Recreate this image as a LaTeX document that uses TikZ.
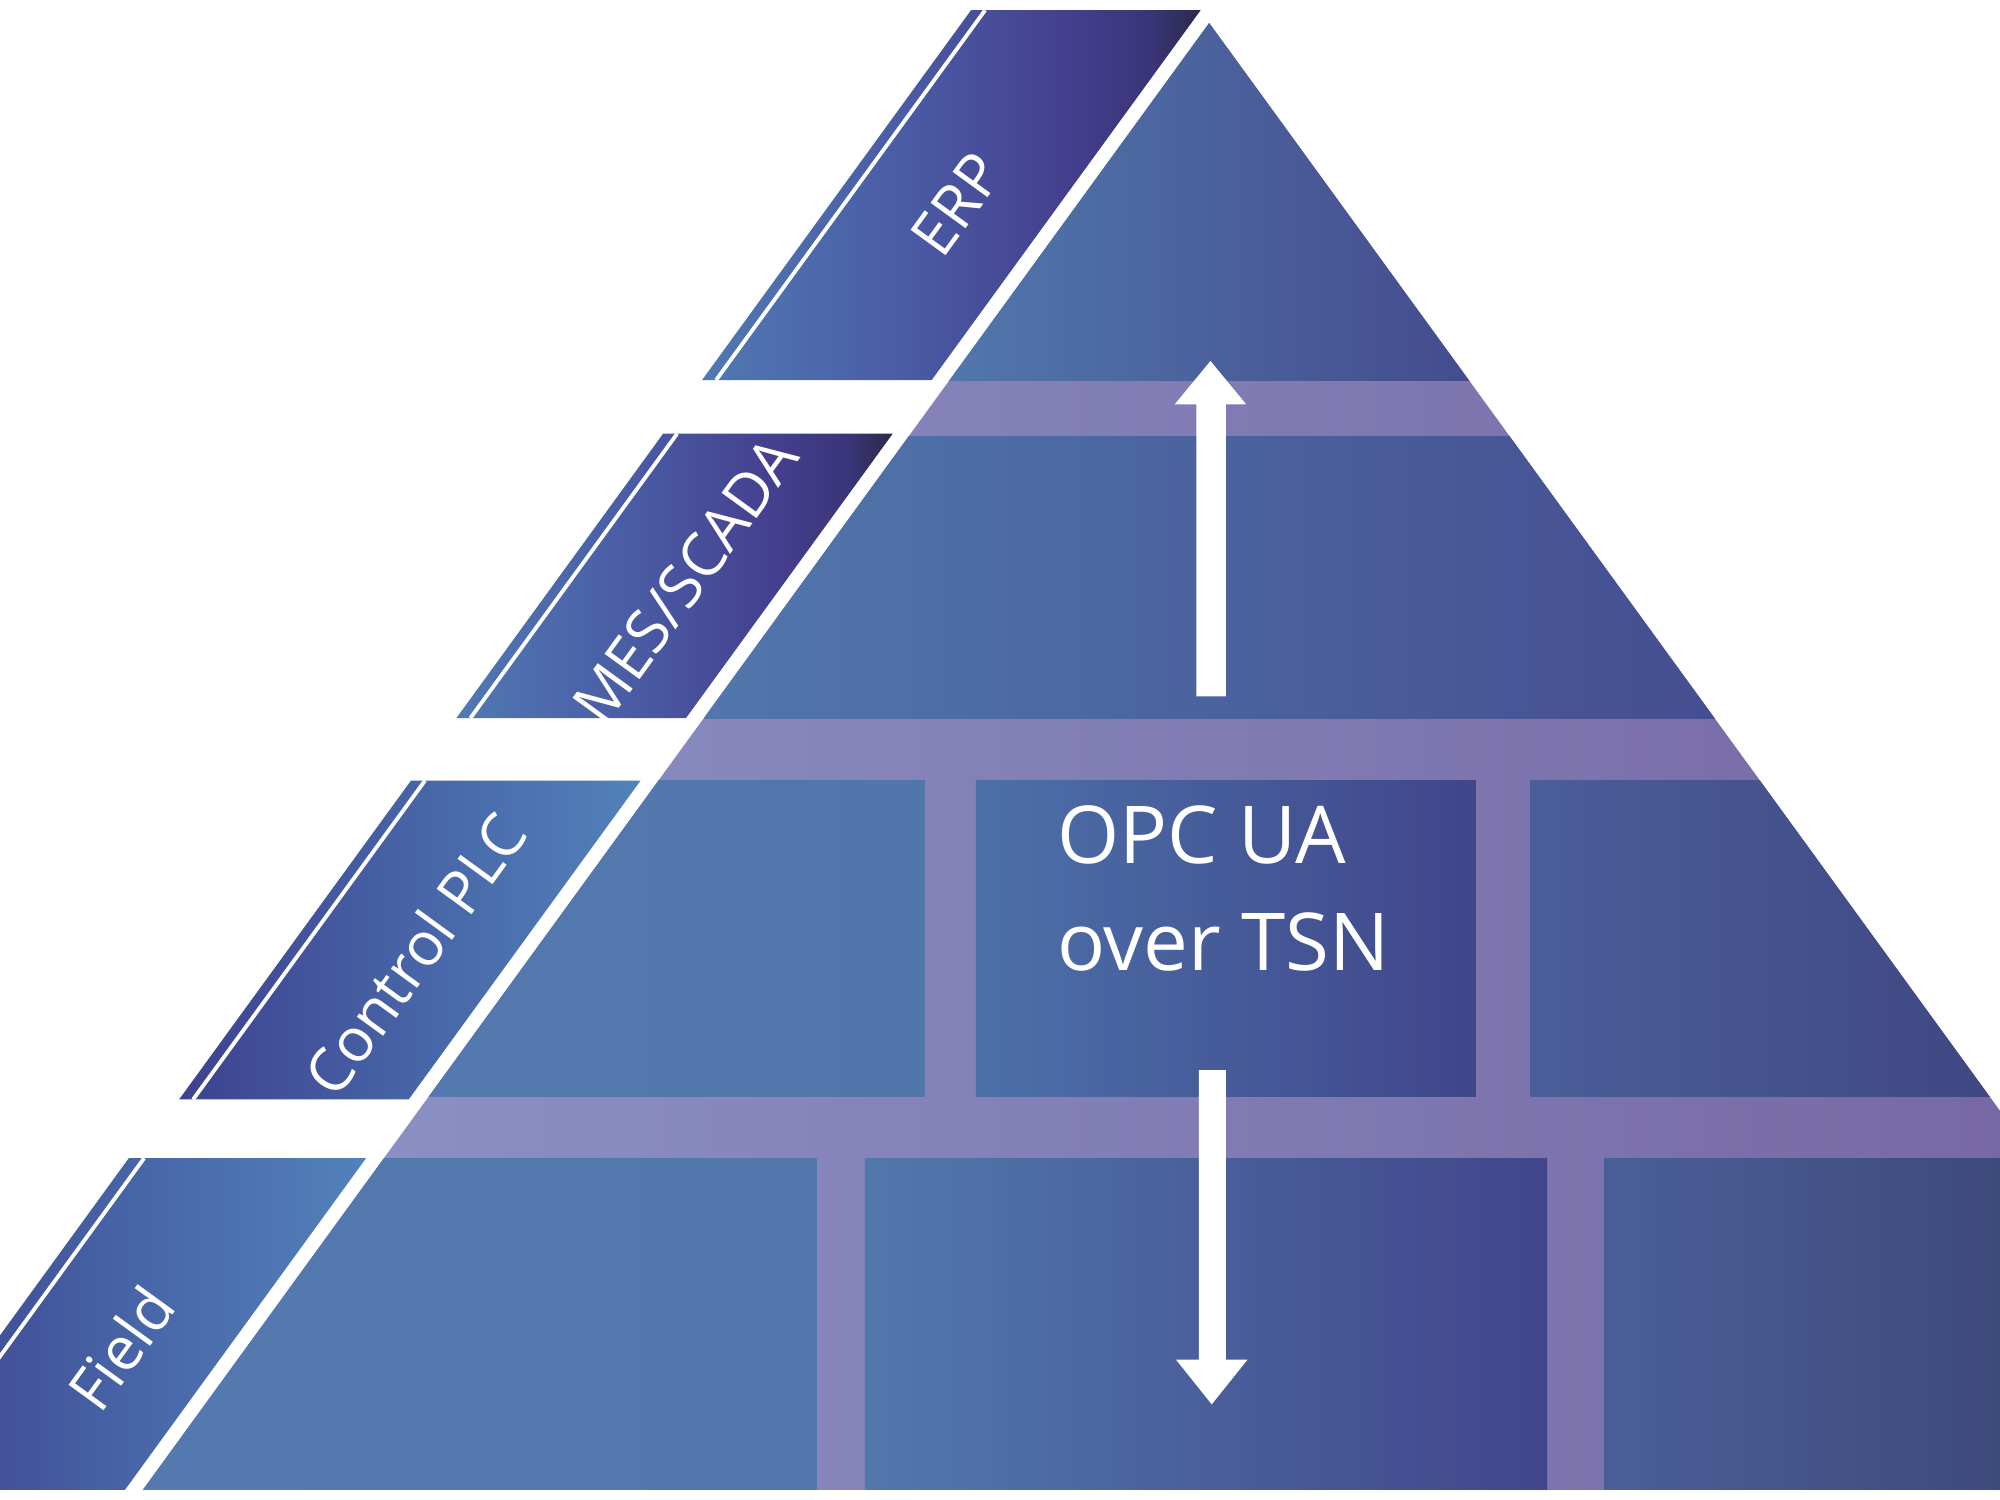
\documentclass[tikz,border=0pt]{standalone}
\usepackage{fontspec}
\setmainfont{Open Sans}
\definecolor{lavL}{HTML}{8E95C8}
\definecolor{lavR}{HTML}{7462A0}
\definecolor{e1}{HTML}{5079B2}
\definecolor{e2}{HTML}{4A5CA5}
\definecolor{e3}{HTML}{443E8E}
\definecolor{e4}{HTML}{3A3578}
\definecolor{e5}{HTML}{2A2A48}
\definecolor{p1}{HTML}{3D4190}
\definecolor{p2}{HTML}{4764A6}
\definecolor{p3}{HTML}{5282BA}
\definecolor{bA}{HTML}{5177AC}
\definecolor{bB}{HTML}{444C8D}
\definecolor{bC}{HTML}{454E90}
\definecolor{bD}{HTML}{5379AE}
\definecolor{bE}{HTML}{5176AC}
\definecolor{bF}{HTML}{4D70A9}
\definecolor{bG}{HTML}{3F4689}
\definecolor{bH}{HTML}{4A5E99}
\definecolor{bI}{HTML}{3F4782}
\definecolor{bJ}{HTML}{5479AF}
\definecolor{bK}{HTML}{5178AD}
\definecolor{bL}{HTML}{41468A}
\definecolor{bM}{HTML}{4A5F98}
\definecolor{bN}{HTML}{3E4A7C}
\pgfdeclarehorizontalshading{topsh}{100bp}{color(0bp)=(e1); color(25bp)=(e1); color(45bp)=(e2); color(62bp)=(e3); color(70bp)=(e4); color(75bp)=(e5); color(100bp)=(e5)}
\pgfdeclarehorizontalshading{lowsh}{100bp}{color(0bp)=(p1); color(25bp)=(p1); color(50bp)=(p2); color(75bp)=(p3); color(100bp)=(p3)}
\begin{document}
\begin{tikzpicture}[x=0.01cm,y=0.01cm,
  lab/.style={text=white,font=\fontsize{13.5}{16}\selectfont,rotate=54,inner sep=0pt},
  opc/.style={text=white,font=\fontsize{17.8}{21}\selectfont,anchor=base west,inner sep=0pt},
  dline/.style={white,line width=0.85pt},
  blk/.style={draw=none}]
\useasboundingbox (0,0) rectangle (1568,-1176);
\clip (0,0) rectangle (1568,-1176);
\fill[white] (0,0) rectangle (1568,-1176);

% pyramid body
\coordinate (apex) at (948,-18);
\coordinate (bl) at (112,-1168);
\coordinate (br) at (1784,-1168);
\begin{scope}
  \clip (apex) -- (bl) -- (br) -- cycle;
  \shade[left color=lavL, right color=lavR] (112,0) rectangle (1784,-1176);
  % row 1
  \shade[blk,left color=bA, right color=bB] (744,0) rectangle (1152,-298);
  % row 2
  \shade[blk,left color=bA, right color=bC] (552,-342) rectangle (1345,-563);
  % row 3
  \shade[blk,left color=bD, right color=bE] (300,-612) rectangle (725,-860);
  \shade[blk,left color=bF, right color=bG] (765,-612) rectangle (1157,-860);
  \shade[blk,left color=bH, right color=bI] (1200,-612) rectangle (1568,-860);
  % row 4
  \shade[blk,left color=bJ, right color=bA] (100,-908) rectangle (640,-1168);
  \shade[blk,left color=bK, right color=bL] (678,-908) rectangle (1213,-1168);
  \shade[blk,left color=bM, right color=bN] (1258,-908) rectangle (1568,-1168);
\end{scope}

% arrows
\fill[white] (938,-546) -- (938,-317) -- (921,-317) -- (949,-283) -- (977,-317) -- (961,-317) -- (961,-546) -- cycle;
\fill[white] (940,-839) -- (940,-1066) -- (922,-1066) -- (950,-1101) -- (978,-1066) -- (961,-1066) -- (961,-839) -- cycle;

% central text
\node[opc] (opc1) at (828,-677) {OPC UA};
\node[opc] (opc2) at (828,-761) {over TSN};

% label strips
\shade[shading=topsh] (761.3,-8) -- (941.3,-8) -- (730.4,-298) -- (550.4,-298) -- cycle;
\draw[dline] (772.3,-8) -- (561.4,-298);
\shade[shading=topsh] (519.9,-340) -- (699.9,-340) -- (537.8,-563) -- (357.8,-563) -- cycle;
\draw[dline] (530.9,-340) -- (368.8,-563);
\shade[shading=lowsh] (322.2,-612) -- (502.2,-612) -- (320.4,-862) -- (140.4,-862) -- cycle;
\draw[dline] (333.2,-612) -- (151.4,-862);
\shade[shading=lowsh] (101,-908) -- (287,-908) -- (98,-1168) -- (-88,-1168) -- cycle;
\draw[dline] (113,-908) -- (-76,-1168);

\node[lab] (erp) at (750,-160) {ERP};
\node[lab] (mes) at (537,-455) {MES/SCADA};
\node[lab] (plc) at (325,-748) {Control PLC};
\node[lab] (field) at (95,-1057) {Field};
\end{tikzpicture}
\end{document}
